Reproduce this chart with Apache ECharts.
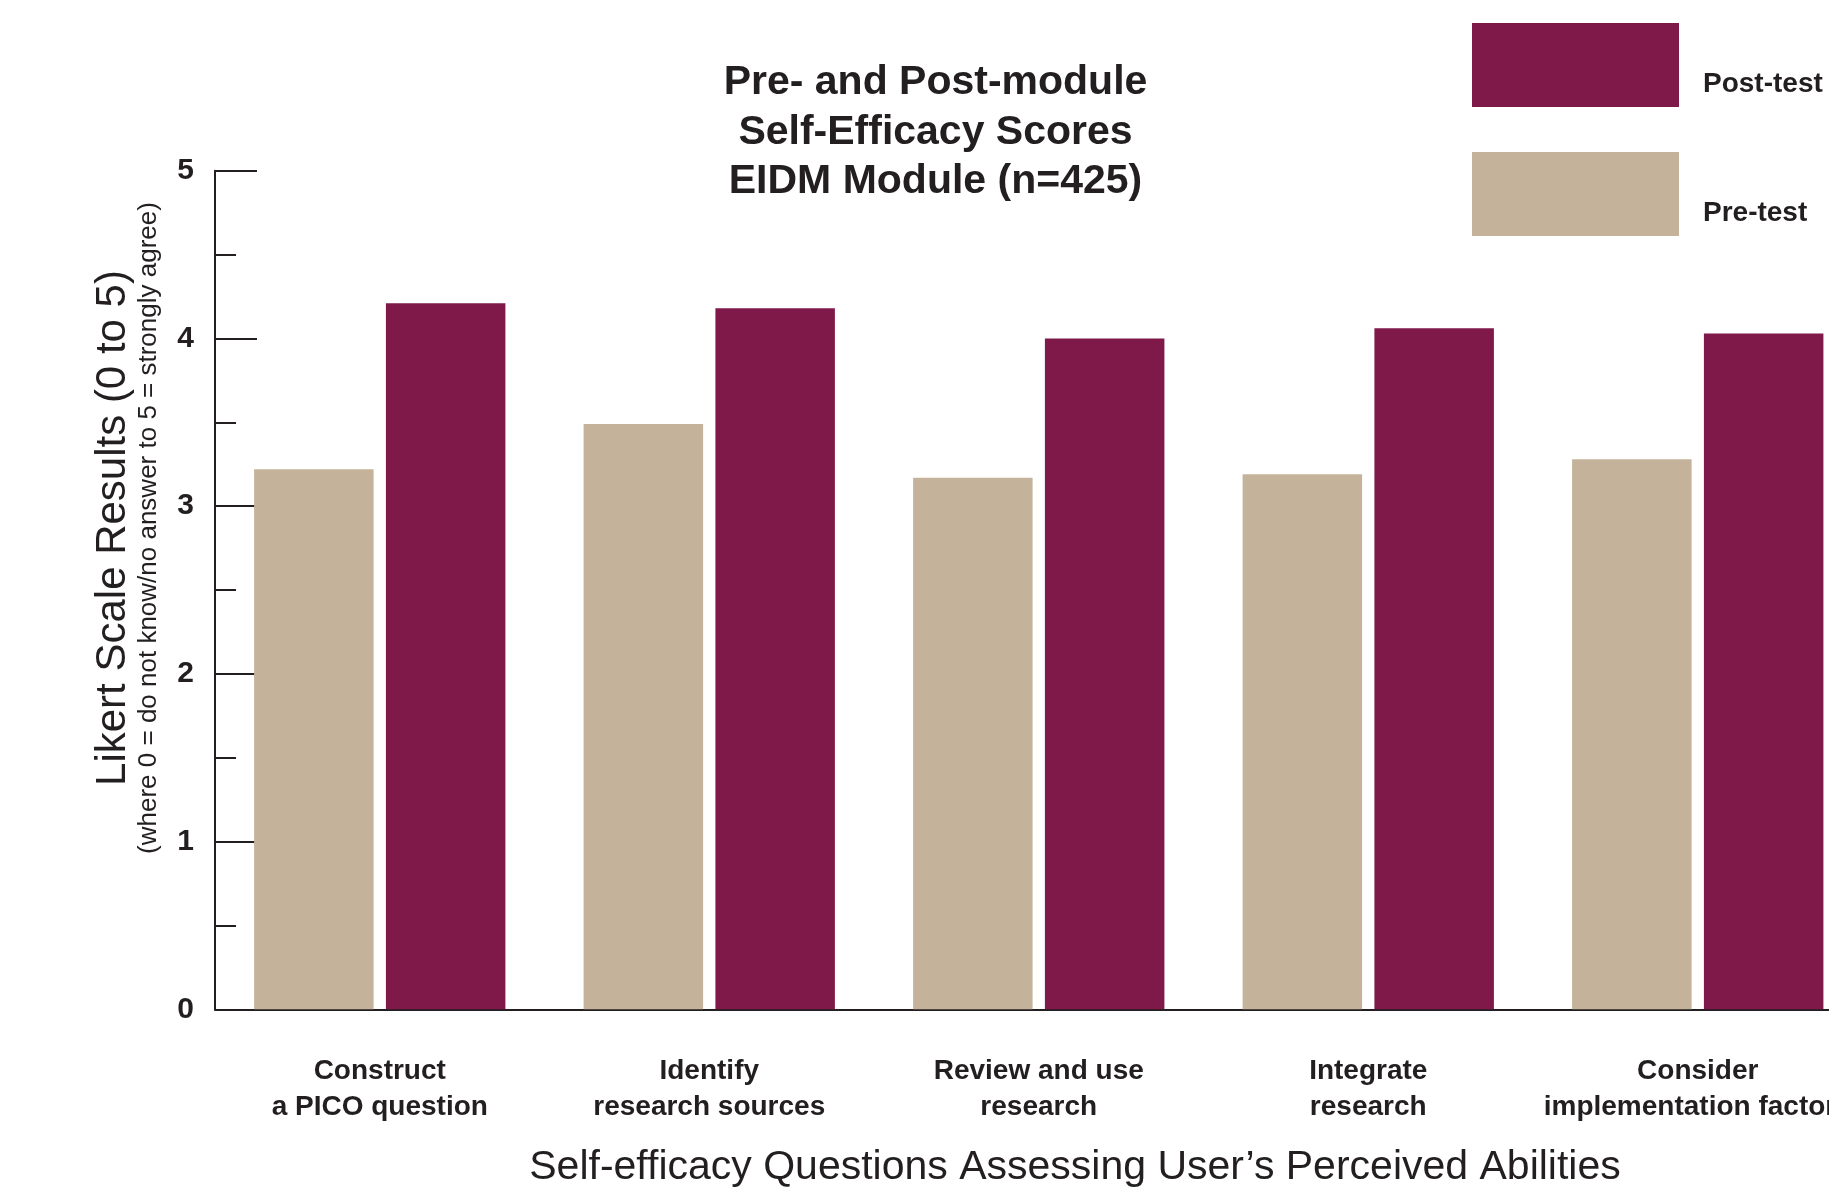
<!DOCTYPE html>
<html>
<head>
<meta charset="utf-8">
<title>Pre- and Post-module Self-Efficacy Scores</title>
<script src="https://cdn.jsdelivr.net/npm/echarts@6/dist/echarts.min.js"></script>
<style>
  html, body { margin: 0; padding: 0; background: #ffffff; }
  #chart { width: 1829px; height: 1191px; }
</style>
</head>
<body>
<div id="chart"></div>
<script>
// Self-efficacy questions (x categories)
const categories = [
  'Construct\na PICO question',
  'Identify\nresearch sources',
  'Review and use\nresearch',
  'Integrate\nresearch',
  'Consider\nimplementation factors'
];
// Mean Likert scores (0 to 5)
const preTest  = [3.22, 3.49, 3.17, 3.19, 3.28];
const postTest = [4.21, 4.18, 4.00, 4.06, 4.03];
const seriesNames = ['Pre-test', 'Post-test'];
const titleLines = ['Pre- and Post-module', 'Self-Efficacy Scores', 'EIDM Module (n=425)'];
const yTitle = 'Likert Scale Results (0 to 5)';
const ySubtitle = '(where 0 = do not know/no answer to 5 = strongly agree)';
const xTitle = 'Self-efficacy Questions Assessing User\u2019s Perceived Abilities';

const INK = '#231f20';
const NARROW = '"Liberation Sans Narrow", "Liberation Sans", Arial, sans-serif';
const SANS = '"Liberation Sans", Arial, sans-serif';

const chart = echarts.init(document.getElementById('chart'), null, { renderer: 'canvas' });

chart.setOption({
  backgroundColor: '#ffffff',
  animation: false,
  // plot area runs past the right edge of the canvas, so the last group is cut off
  grid: {
    left: 215, width: 1647.5, top: 170.7, bottom: 181.7,
    containLabel: false,
    outerBoundsMode: 'none'
  },
  legend: {
    data: [seriesNames[1], seriesNames[0]],
    orient: 'vertical',
    left: 1467,
    top: 18,
    itemWidth: 207,
    itemHeight: 84,
    itemGap: 45,
    icon: 'rect',
    selectedMode: false,
    // a leading blank line drops each label below the middle of its swatch
    formatter: name => '\n' + name,
    textStyle: {
      fontFamily: NARROW,
      fontWeight: 'bold',
      fontSize: 28,
      lineHeight: 38,
      color: INK,
      padding: [0, 0, 0, 19]
    }
  },
  xAxis: {
    type: 'category',
    data: categories,
    axisLine: { show: true, lineStyle: { color: INK, width: 2 } },
    axisTick: { show: false },
    axisLabel: {
      interval: 0,
      margin: 44,
      color: INK,
      fontFamily: NARROW,
      fontWeight: 'bold',
      fontSize: 28,
      lineHeight: 36
    },
    splitLine: { show: false }
  },
  yAxis: {
    type: 'value',
    min: 0,
    max: 5,
    interval: 1,
    axisLine: { show: true, lineStyle: { color: INK, width: 2 } },
    axisTick: { show: true, inside: true, length: 42, lineStyle: { color: INK, width: 2 } },
    minorTick: { show: true, splitNumber: 2, length: 21, lineStyle: { color: INK, width: 2 } },
    axisLabel: {
      margin: 21,
      color: INK,
      fontFamily: SANS,
      fontWeight: 'bold',
      fontSize: 30
    },
    splitLine: { show: false },
    minorSplitLine: { show: false }
  },
  series: [
    {
      name: seriesNames[0],
      type: 'bar',
      data: preTest,
      barWidth: 119.5,
      barGap: '10.3%',
      itemStyle: { color: '#c4b39a' }
    },
    {
      name: seriesNames[1],
      type: 'bar',
      data: postTest,
      barWidth: 119.5,
      barGap: '10.3%',
      itemStyle: { color: '#7f194a' }
    }
  ],
  graphic: [
    {
      type: 'text',
      x: 935.5,
      y: 132.4,
      style: {
        text: titleLines.join('\n'),
        align: 'center',
        verticalAlign: 'middle',
        fontFamily: SANS,
        fontWeight: 'bold',
        fontSize: 41,
        lineHeight: 49.6,
        fill: INK
      }
    },
    {
      type: 'text',
      x: 113,
      y: 528,
      rotation: Math.PI / 2,
      style: {
        text: yTitle,
        align: 'center',
        verticalAlign: 'middle',
        fontFamily: NARROW,
        fontSize: 42,
        fill: INK
      }
    },
    {
      type: 'text',
      x: 148.5,
      y: 528,
      rotation: Math.PI / 2,
      style: {
        text: ySubtitle,
        align: 'center',
        verticalAlign: 'middle',
        fontFamily: NARROW,
        fontSize: 26,
        fill: INK
      }
    },
    {
      type: 'text',
      x: 1075,
      y: 1168,
      style: {
        text: xTitle,
        align: 'center',
        verticalAlign: 'middle',
        fontFamily: NARROW,
        fontSize: 41,
        fill: INK
      }
    }
  ]
});
</script>
</body>
</html>
